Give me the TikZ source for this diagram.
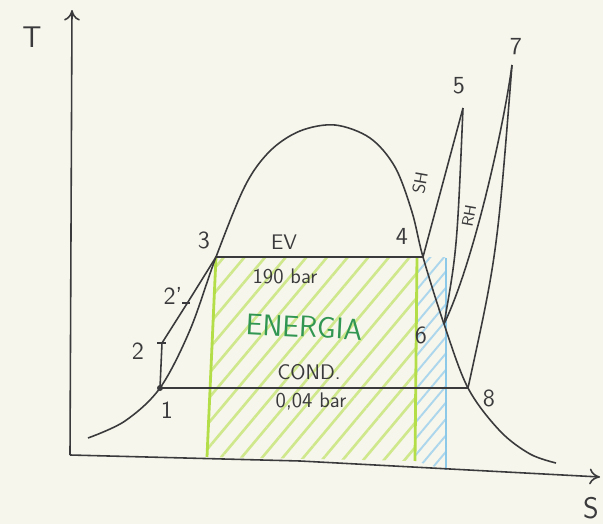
\documentclass[tikz,border=0pt]{standalone}
\usepackage{xcolor}
\usetikzlibrary{arrows, arrows.meta}
\usetikzlibrary{patterns.meta}
\definecolor{paper}{RGB}{247,246,236}
\definecolor{pencil}{RGB}{58,58,60}
\definecolor{hatchgreen}{RGB}{208,232,140}
\definecolor{bordergreen}{RGB}{180,222,72}
\definecolor{hatchblue}{RGB}{172,214,236}
\definecolor{borderblue}{RGB}{140,200,232}
\definecolor{energygreen}{RGB}{48,150,82}

\begin{document}
\begin{tikzpicture}[x=0.02cm, y=-0.02cm,
  pen/.style={color=pencil, line width=0.9pt},
  num/.style={color=pencil, font=\sffamily\fontsize{14}{16}\selectfont},
  note/.style={color=pencil, font=\sffamily\fontsize{12}{14}\selectfont}]
 \fill[paper] (0,0) rectangle (603,524);
 \useasboundingbox (0,0) rectangle (603,524);

 %states of the cycle:
 \coordinate (P1) at (160,388);
 \coordinate (P2) at (162,343);
 \coordinate (P2p) at (188,302);
 \coordinate (P3) at (216,257);
 \coordinate (P4) at (423,257);
 \coordinate (P5) at (463,108);
 \coordinate (P6) at (444,324);
 \coordinate (P7) at (512,65);
 \coordinate (P8) at (468,388);

 %areas:
 \fill[pattern={Lines[angle=50,distance=9pt,line width=1.5pt]}, pattern color=hatchgreen]
   (216,257) -- (417,257) -- (415,461) -- (207,457) -- cycle;
 \fill[pattern={Lines[angle=50,distance=6pt,line width=1.1pt]}, pattern color=hatchblue]
   (417,257) -- (446,257) -- (446,470) -- (415,461) -- cycle;
 \draw[bordergreen, line width=1.6pt] (216,257) -- (207,457);
 \draw[bordergreen, line width=1.6pt] (417,257) -- (415,461);
 \draw[borderblue, line width=1.4pt] (446,258) -- (446,470);

 %axes:
 \coordinate (O) at (70,455);
 \draw[-{To[length=6pt,width=9pt]}, pen] (O) -- (72,10) coordinate (Ttop);
 \draw[-{To[length=6pt,width=9pt]}, pen] (O) -- (300,461) -- (600,477) coordinate (Send);
 \node[num, font=\sffamily\fontsize{17}{19}\selectfont] (Tlbl) at (32,37) {T};
 \node[num, font=\sffamily\fontsize{17}{19}\selectfont] (Slbl) at (591,508) {S};

 %saturation dome
 \draw[pen] plot[smooth, tension=0.55] coordinates {(88,438) (125,421) (P1) (190,330) (P3)
   (245,186) (270,151) (300,131) (335,125) (370,138) (395,167) (412,212) (P4) (P6) (P8)
   (500,431) (530,454) (556,463)};

 %cycle
 \draw[pen] (P1) -- (P2) -- (P2p) -- (P3) -- (P4);
 \draw[pen] (157,343) -- (166,343);
 \draw[pen] (182,303) -- (190,303);
 \draw[pen] (P1) -- (P8);
 \draw[pen] (P4) -- (P5);
 \draw[pen] (P5) .. controls (457,250) .. (P6);
 \draw[pen] (P6) .. controls (474,262) and (504,125) .. (P7);
 \draw[pen] (P7) .. controls (497,255) .. (P8);
 \fill[pencil] (P1) circle (3);

 \node[num] (n1) at (167,410) {1};
 \node[num] (n2) at (138,351) {2};
 \node[num] (n2p) at (173,296) {2'};
 \node[num] (n3) at (204,240) {3};
 \node[num] (n4) at (402,236) {4};
 \node[num] (n5) at (459,86) {5};
 \node[num] (n6) at (421,335) {6};
 \node[num] (n7) at (516,47) {7};
 \node[num] (n8) at (489,398) {8};

 \node[note] (ev) at (284,242) {EV};
 \node[note] (phigh) at (285,276) {190 bar};
 \node[note] (cond) at (309,372) {COND.};
 \node[note] (plow) at (311,402) {0,04 bar};
 \node[note, inner sep=0pt, font=\sffamily\fontsize{10}{12}\selectfont, rotate=80] (sh) at (420,183) {SH};
 \node[note, inner sep=0pt, font=\sffamily\fontsize{9}{11}\selectfont, rotate=80] (rh) at (469,216) {RH};
 \node[color=energygreen, rotate=-3, font=\sffamily\fontsize{17}{19}\selectfont] (energy) at (304,327) {ENERGIA};
\end{tikzpicture}
\end{document}
